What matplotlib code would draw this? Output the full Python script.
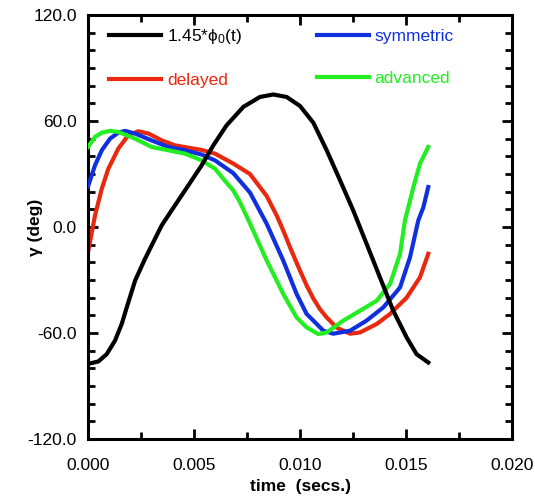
import matplotlib
matplotlib.use('Agg')
import matplotlib.pyplot as plt
from matplotlib.ticker import MultipleLocator, FormatStrFormatter

plt.rcParams['font.family'] = ['Liberation Sans', 'DejaVu Sans']
plt.rcParams['mathtext.fontset'] = 'custom'
plt.rcParams['mathtext.rm'] = 'Liberation Sans'
plt.rcParams['mathtext.it'] = 'Liberation Sans'

# 1.45*phi0(t)
t_phi = [0.0, 0.00049, 0.00088, 0.00127, 0.00159, 0.0019, 0.00222, 0.00269, 0.00308,
         0.00348, 0.0041, 0.00473, 0.00536, 0.00591, 0.00654, 0.00733, 0.00811,
         0.00874, 0.00937, 0.0100, 0.01063, 0.01126, 0.01189, 0.01251, 0.01314,
         0.01377, 0.0144, 0.01503, 0.0155, 0.01605]
phi = [-77.5, -76.1, -72, -64.4, -54.9, -42.7, -30.4, -18, -8.6,
       1, 12.2, 23.5, 34.9, 46.2, 57.6, 68, 73.6,
       75, 73.6, 68.5, 59, 43.4, 26.4, 9.4, -9.5,
       -28.5, -47.4, -62.5, -72, -76.7]

# delayed
t_del = [0.0, 0.00033, 0.00065, 0.00096, 0.00143, 0.0019, 0.00237, 0.00285, 0.00348,
         0.0041, 0.00473, 0.00536, 0.00599, 0.00685, 0.00764, 0.00843, 0.0089,
         0.00921, 0.00953, 0.0100, 0.01031, 0.01063, 0.01094, 0.01126, 0.01173,
         0.01236, 0.01283, 0.01362, 0.01425, 0.01503, 0.01566, 0.01605]
delayed = [-14.3, 6.5, 21.7, 33, 44.4, 51.9, 54.2, 52.9, 49,
           46.2, 44.9, 43.6, 41.5, 35.9, 30, 17.5, 6.5,
           -2, -11.5, -24.7, -33, -40.5, -46.5, -51.2, -57,
           -60.4, -59.7, -54.9, -49.2, -40, -28.5, -15.2]

# symmetric
t_sym = [0.0, 0.00033, 0.00065, 0.00104, 0.00143, 0.00175, 0.00222, 0.003, 0.00379,
         0.00458, 0.00536, 0.00599, 0.00685, 0.00764, 0.00843, 0.00921, 0.00984,
         0.01031, 0.01063, 0.0111, 0.01157, 0.01236, 0.01314, 0.01393, 0.01472,
         0.01519, 0.01558, 0.01582, 0.01605]
symmetric = [23, 34.9, 43.4, 50, 53.4, 54.4, 52.9, 49, 45.3,
             43.4, 41, 37.7, 30.5, 19.5, 1.8, -19, -37.9,
             -49.2, -53, -58.7, -60.4, -58.7, -53, -45.5, -34.2,
             -17.1, 3.7, 11.2, 22.6]

# advanced
t_adv = [0.0, 0.00033, 0.00065, 0.00104, 0.00143, 0.00222, 0.003, 0.00379, 0.00458,
         0.00536, 0.00599, 0.00654, 0.00685, 0.00717, 0.00764, 0.00843, 0.00921,
         0.00984, 0.01031, 0.01086, 0.01126, 0.01204, 0.01283, 0.01362, 0.01425,
         0.01472, 0.01495, 0.01535, 0.01566, 0.01605]
advanced = [45.3, 51, 53.4, 54.4, 53.8, 50, 45.3, 43.4, 41.5,
            37.7, 33, 25, 20.7, 14, 2, -19, -37.9,
            -51.2, -56.8, -60.6, -59.7, -53, -47.4, -41.7, -32.2,
            -15.2, 3.7, 22.6, 35.9, 45.3]

fig = plt.figure(figsize=(5.35, 4.98), dpi=100)
ax = fig.add_axes([0.1645, 0.1185, 0.7925, 0.8514])

red = '#e8280f'
blue = '#1030e0'
green = '#22ee22'
lw = 3.0

l_red, = ax.plot(t_del, delayed, color=red, lw=lw, label='delayed', zorder=2)
l_blue, = ax.plot(t_sym, symmetric, color=blue, lw=lw, label='symmetric', zorder=3)
l_green, = ax.plot(t_adv, advanced, color=green, lw=lw, label='advanced', zorder=4)
l_blk, = ax.plot(t_phi, phi, color='black', lw=lw, label=r'1.45*$\mathregular{\phi_0}$(t)', zorder=5)

ax.set_xlim(0, 0.02)
ax.set_ylim(-120, 120)
ax.xaxis.set_major_locator(MultipleLocator(0.005))
ax.xaxis.set_minor_locator(MultipleLocator(0.0025))
ax.yaxis.set_major_locator(MultipleLocator(60))
ax.yaxis.set_minor_locator(MultipleLocator(10))
ax.xaxis.set_major_formatter(FormatStrFormatter('%.3f'))
ax.yaxis.set_major_formatter(FormatStrFormatter('%.1f'))
ax.tick_params(which='both', direction='in', top=True, right=True, width=2, labelsize=12.5)
ax.tick_params(which='major', length=7.5)
ax.tick_params(which='minor', length=5)
ax.tick_params(axis='x', pad=14)
ax.tick_params(axis='y', pad=8)
for s in ax.spines.values():
    s.set_linewidth(2.2)

ax.set_xlabel('time  (secs.)', fontsize=12.5, fontweight='bold', labelpad=4)
ax.set_ylabel('γ (deg)', fontsize=12.5, fontweight='bold')
ax.yaxis.set_label_coords(-0.106, 0.5)

leg = ax.legend(handles=[l_blk, l_red, l_blue, l_green], ncol=2, frameon=False,
                loc='upper left', bbox_to_anchor=(0.012, 1.008), fontsize=12.5,
                handlelength=3.0, handletextpad=0.35, labelspacing=1.55, columnspacing=4.3)
for txt, c in zip(leg.get_texts(), ['black', red, blue, green]):
    txt.set_color(c)

fig.savefig('out.png', dpi=100)
